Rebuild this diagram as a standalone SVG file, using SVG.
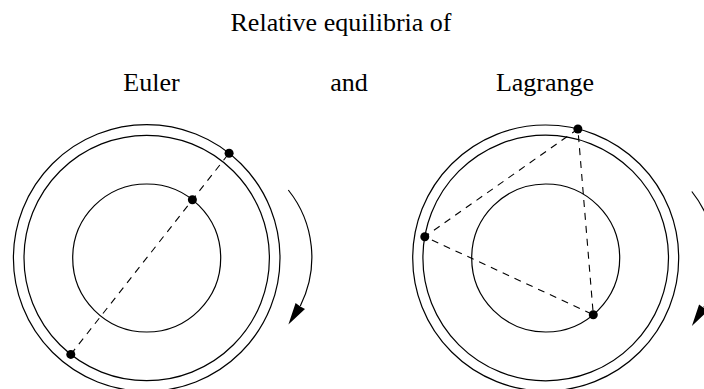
<svg xmlns="http://www.w3.org/2000/svg" width="704" height="389" viewBox="0 0 704 389">
<style>
  .orbit{fill:none;stroke:#000;stroke-width:1.2}
  .body{fill:#000}
  .dash{fill:none;stroke:#000;stroke-width:1.1;stroke-dasharray:7 6}
  .rot{fill:none;stroke:#000;stroke-width:1.2}
  .head{fill:#000}
  .lbl{font-family:"Liberation Serif","Times New Roman",serif;font-size:26px;fill:#000;text-anchor:middle}
</style>
<rect width="704" height="389" fill="#fff"/>
<g id="labels">
  <text class="lbl" x="341" y="31">Relative equilibria of</text>
  <text class="lbl" x="151.5" y="91">Euler</text>
  <text class="lbl" x="349" y="91">and</text>
  <text class="lbl" x="545" y="91">Lagrange</text>
</g>
<g id="euler">
  <circle class="orbit" cx="146.7" cy="258" r="133.3"/>
  <circle class="orbit" cx="146.7" cy="258" r="122.7"/>
  <circle class="orbit" cx="146.7" cy="258" r="74"/>
</g>
<g id="lagrange">
  <circle class="orbit" cx="545.7" cy="258" r="133"/>
  <circle class="orbit" cx="545.7" cy="258" r="122.8"/>
  <circle class="orbit" cx="545.7" cy="258" r="74"/>
</g>
<g id="connectors">
  <line class="dash" x1="70.8" y1="354.4" x2="229.1" y2="153.2"/>
  <polygon class="dash" points="577.9,129 424.8,236.7 593.3,314.7"/>
  <path class="rot" d="M288.3,190 A108,108 0 0 1 300.3,305.9"/>
  <polygon class="head" points="288.4,324.4 295.6,302.9 300.3,306.5 305,308.9"/>
  <g transform="translate(403.5,1.5)">
    <path class="rot" d="M288.3,190 A108,108 0 0 1 300.3,305.9"/>
    <polygon class="head" points="288.4,324.4 295.6,302.9 300.3,306.5 305,308.9"/>
  </g>
</g>
<g id="bodies">
  <circle class="body" cx="229.1" cy="153.2" r="4.5"/>
  <circle class="body" cx="192.4" cy="199.8" r="4.5"/>
  <circle class="body" cx="70.8" cy="354.4" r="4.5"/>
  <circle class="body" cx="577.9" cy="129" r="4.5"/>
  <circle class="body" cx="424.8" cy="236.7" r="4.5"/>
  <circle class="body" cx="593.3" cy="314.7" r="4.5"/>
</g>
</svg>
